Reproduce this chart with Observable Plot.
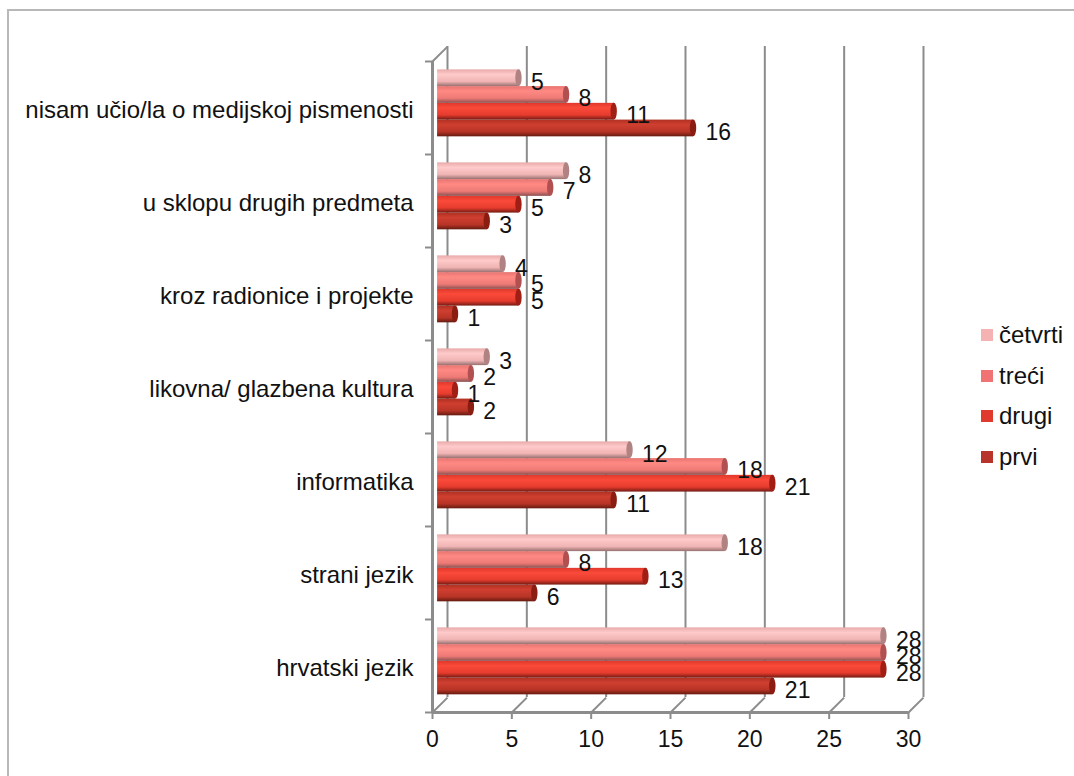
<!DOCTYPE html>
<html>
<head>
<meta charset="utf-8">
<script src="https://cdn.jsdelivr.net/npm/d3@7"></script>
<script src="https://cdn.jsdelivr.net/npm/@observablehq/plot@0.6"></script>
<style>
html,body{margin:0;padding:0;background:#fff;}
#wrap{position:relative;width:1074px;height:776px;overflow:hidden;font-family:"Liberation Sans",Arial,sans-serif;color:#111;}
#frame{position:absolute;left:7px;top:9px;width:1080px;height:790px;border:2px solid #b8b8b8;box-sizing:border-box;}
#legend{position:absolute;left:981px;top:320px;font-size:24px;}
.item{position:absolute;left:0;white-space:nowrap;height:24px;line-height:24px;}
.sw{position:absolute;left:0;top:6px;width:12px;height:12px;}
.lb{position:absolute;left:18px;top:0;}
svg{position:absolute;left:0;top:0;}
</style>
</head>
<body>
<div id="wrap"><div id="frame"></div><div id="legend"></div></div>
<script>
// categories, bottom to top
const categories = ["hrvatski jezik","strani jezik","informatika","likovna/ glazbena kultura","kroz radionice i projekte","u sklopu drugih predmeta","nisam učio/la o medijskoj pismenosti"];
const prvi    = [21, 6, 11, 2, 1, 3, 16];
const drugi   = [28, 13, 21, 1, 5, 5, 11];
const treci   = [28, 8, 18, 2, 5, 7, 8];
const cetvrti = [28, 18, 12, 3, 4, 8, 5];
const seriesNames = ["prvi","drugi","treći","četvrti"];
const seriesValues = [prvi, drugi, treci, cetvrti];
const xTicks = [0,5,10,15,20,25,30];

const swatch = ["#b8332a","#e03a2e","#ef7373","#f4b2b2"];
const capFill = ["#8a1c12","#a01e14","#b05050","#b08282"];
const grads = [
  ["#b03022","#cf3f30","#b83426","#651a10"],
  ["#e0382c","#fa4a3a","#e63c2e","#741a12"],
  ["#e87470","#ff8a84","#ee7a76","#8a5050"],
  ["#e8aaaa","#ffcaca","#f0b4b4","#987070"]
];

const rows = seriesValues.flatMap((vals,s)=>vals.map((v,c)=>({series:s,cat:c,value:v,
  y1:c+0.19+s*0.18, y2:c+0.19+(s+1)*0.18})));

const ink="#8c8c8c", depthX=0.945, depthY=0.16, barShift=0.45;
const font='"Liberation Sans",Arial,sans-serif';

const defs = () => {
  const ns="http://www.w3.org/2000/svg";
  const d=document.createElementNS(ns,"defs");
  grads.forEach((g,i)=>{
    const lg=document.createElementNS(ns,"linearGradient");
    lg.setAttribute("id","g"+i);lg.setAttribute("x1","0");lg.setAttribute("x2","0");lg.setAttribute("y1","0");lg.setAttribute("y2","1");
    [0,0.3,0.72,1].forEach((o,k)=>{const st=document.createElementNS(ns,"stop");st.setAttribute("offset",o);st.setAttribute("stop-color",g[k]);lg.appendChild(st);});
    d.appendChild(lg);
  });
  return d;
};

const plot = Plot.plot({
  width:1074, height:776,
  marginLeft:432, marginRight:166, marginTop:61, marginBottom:64,
  style:{background:"transparent",fontFamily:font,color:"#111",overflow:"visible"},
  x:{domain:[0,30]},
  y:{domain:[0,7]},
  marks:[
    defs,
    Plot.ruleX(xTicks,{x:d=>d+depthX,y1:depthY,y2:7+depthY,stroke:ink,strokeWidth:2}),
    Plot.link(xTicks,{x1:d=>d,y1:0,x2:d=>d+depthX,y2:depthY,stroke:ink,strokeWidth:2}),
    Plot.link([0],{x1:0,y1:7,x2:depthX,y2:7+depthY,stroke:ink,strokeWidth:2}),
    Plot.ruleX([0],{y1:0,y2:7,stroke:ink,strokeWidth:3}),
    Plot.ruleY([0],{x1:0,x2:30,stroke:ink,strokeWidth:3}),
    Plot.axisX({ticks:xTicks,tickSize:7,tickPadding:11,fontSize:23,stroke:ink,strokeWidth:2,color:"#111",anchor:"bottom",label:null}),
    Plot.axisY({ticks:d3.range(0,8),tickSize:7,tickFormat:()=>"",stroke:ink,strokeWidth:2,anchor:"left",label:null}),
    Plot.axisY({ticks:categories.map((_,i)=>i+0.5),tickSize:0,tickPadding:19,dy:2,fontSize:24,color:"#111",tickFormat:d=>categories[Math.floor(d)],anchor:"left",label:null}),
    ...seriesNames.map((_,s)=>Plot.rectX(rows.filter(r=>r.series===s),{x1:0.32,x2:d=>d.value+barShift,y1:"y1",y2:"y2",fill:`url(#g${s})`})),
    ...seriesNames.map((_,s)=>Plot.rectX(rows.filter(r=>r.series===s),{x1:d=>d.value+barShift-0.2,x2:d=>d.value+barShift+0.2,y1:"y1",y2:"y2",fill:capFill[s],rx:3,ry:8})),
    Plot.text(rows,{x:d=>d.value+barShift,y:d=>(d.y1+d.y2)/2,text:"value",textAnchor:"start",dx:12,dy:4,fontSize:23,fill:"#111"})
  ]
});
document.getElementById("wrap").appendChild(plot);

const legend=document.getElementById("legend");
const ys=[335,376,416,457];
[3,2,1,0].forEach((s,i)=>{
  const it=document.createElement("div");it.className="item";it.style.top=(ys[i]-12-320)+"px";
  it.innerHTML=`<span class="sw" style="background:${swatch[s]}"></span><span class="lb">${seriesNames[s]}</span>`;
  legend.appendChild(it);
});
</script>
</body>
</html>
